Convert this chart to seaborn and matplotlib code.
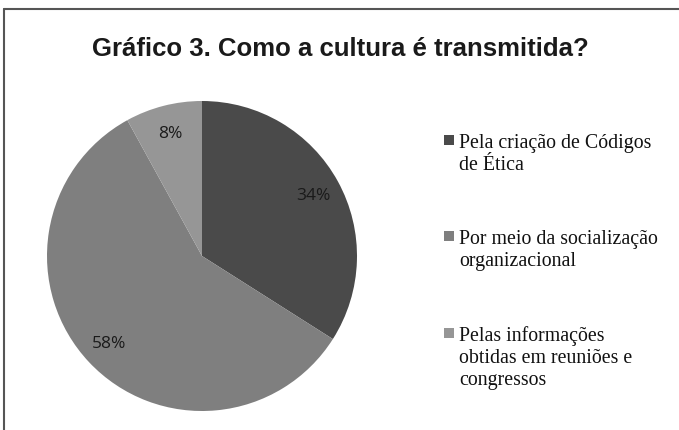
import textwrap
import matplotlib
matplotlib.use("Agg")
import matplotlib.pyplot as plt
from matplotlib.lines import Line2D
from matplotlib.patches import Rectangle
import seaborn as sns

title = "Gráfico 3. Como a cultura é transmitida?"
categories = [
    "Pela criação de Códigos de Ética",
    "Por meio da socialização organizacional",
    "Pelas informações obtidas em reuniões e congressos",
]
values = [34, 58, 8]
colors = ["#4a4a4a", "#7f7f7f", "#969696"]

sns.set_theme(style="white")
plt.rcParams["font.family"] = ["Liberation Sans", "DejaVu Sans"]

W, H = 679, 431
fig = plt.figure(figsize=(W / 100, H / 100), dpi=100)
fig.patch.set_facecolor("white")

# pie axes: center (202, 257) px, radius 155 px
cx, cy, r = 202, 257, 155
ax = fig.add_axes([(cx - r) / W, (H - cy - r) / H, 2 * r / W, 2 * r / H])
wedges, texts, autotexts = ax.pie(
    values, colors=colors, startangle=90, counterclock=False,
    autopct="%.0f%%", pctdistance=0.82, radius=1.0,
    wedgeprops=dict(linewidth=0),
    textprops=dict(fontsize=12.5, family=["Open Sans", "DejaVu Sans"], color="#1a1a1a"),
)
ax.set_xlim(-1, 1)
ax.set_ylim(-1, 1)
ax.set_aspect("equal")
ax.axis("off")

fig.text(340 / W, 1 - 49 / H, title, ha="center", va="center",
         fontsize=18.5, fontweight="bold", family=["Liberation Sans", "DejaVu Sans"],
         color="#1a1a1a")

# legend
baselines = [148, 244, 341]
for lab, col, yb in zip(categories, colors, baselines):
    s = 10
    yc = yb - 7
    fig.add_artist(Rectangle(((449 - s / 2) / W, (H - yc - s / 2) / H), s / W, s / H,
                             transform=fig.transFigure, facecolor=col, edgecolor="none"))
    for i, line in enumerate(textwrap.wrap(lab, width=24)):
        fig.text(459 / W, 1 - (yb + 22 * i) / H, line, ha="left", va="baseline",
                 fontsize=14.3, family=["Liberation Serif", "DejaVu Serif"],
                 color="#111111")

# border (left and top)
fig.add_artist(Line2D([4 / W, 4 / W], [0, 1 - 10 / H], transform=fig.transFigure,
                      color="#555555", linewidth=1.5))
fig.add_artist(Line2D([4 / W, 1], [1 - 10 / H, 1 - 10 / H], transform=fig.transFigure,
                      color="#555555", linewidth=1.5))

fig.savefig("out.png", dpi=100)
